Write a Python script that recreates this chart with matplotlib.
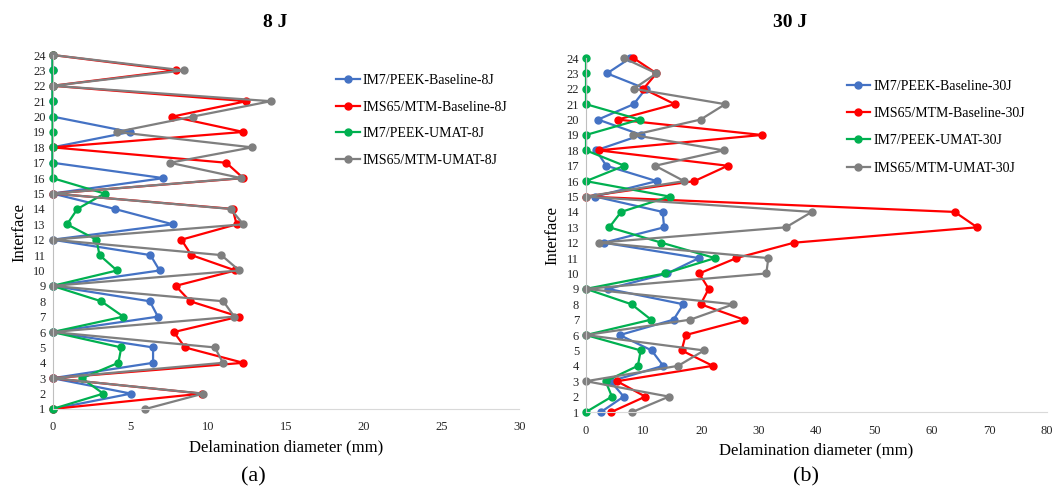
import matplotlib
matplotlib.use("Agg")
import matplotlib.pyplot as plt

plt.rcParams['font.family'] = ['Liberation Serif', 'DejaVu Serif']

interfaces = list(range(1, 25))

# delamination diameter (mm) per interface, interface 1 -> 24
peek_base_8 = [0, 5.04, 0, 6.46, 6.46, 0, 6.77, 6.25, 0, 6.88, 6.29, 0,
               7.72, 3.99, 0, 7.13, 0, 0, 4.98, 0, 0, 0, 0, 0]
mtm_base_8 = [0, 9.59, 0, 12.26, 8.51, 7.80, 11.98, 8.84, 7.91, 11.75, 8.92, 8.28,
              11.83, 11.57, 0, 12.26, 11.16, 0, 12.26, 7.70, 12.46, 0, 7.93, 0]
peek_umat_8 = [0, 3.26, 1.88, 4.23, 4.42, 0, 4.55, 3.13, 0, 4.14, 3.02, 2.82,
               0.93, 1.60, 3.34, 0, 0, 0, 0, 0, 0, 0, 0, 0]
mtm_umat_8 = [5.97, 9.68, 0, 10.95, 10.43, 0, 11.68, 10.97, 0, 12.00, 10.84, 0,
              12.26, 11.44, 0, 12.13, 7.54, 12.82, 4.12, 9.01, 14.03, 0, 8.43, 0]

peek_base_30 = [2.6, 6.54, 4.28, 13.4, 11.4, 5.85, 15.2, 16.9, 3.83, 14.1, 19.6, 3.07,
                13.56, 13.3, 1.57, 12.28, 3.53, 1.74, 9.62, 2.09, 8.28, 10.37, 3.65, 7.7]
mtm_base_30 = [4.4, 10.3, 5.39, 22.0, 16.6, 17.3, 27.4, 19.9, 21.3, 19.65, 26.1, 36.1,
               67.9, 64.0, 0, 18.8, 24.6, 2.2, 30.5, 5.5, 15.4, 9.97, 12.23, 8.23]
peek_umat_30 = [0, 4.5, 3.4, 9.0, 9.5, 0, 11.3, 7.9, 0, 13.7, 22.4, 13.1,
                4.05, 6.09, 14.5, 0, 6.66, 0, 0, 9.3, 0, 0, 0, 0]
mtm_umat_30 = [8.05, 14.4, 0, 16.0, 20.5, 0, 18.1, 25.6, 0, 31.3, 31.65, 2.3,
               34.7, 39.2, 0, 17.04, 12.0, 23.9, 8.23, 19.88, 24.17, 8.28, 12.23, 6.54]

colors = ['#4472C4', '#FF0000', '#00B050', '#7F7F7F']

fig = plt.figure(figsize=(10.57, 4.92), dpi=100)
ax_a = fig.add_axes([0.0497, 0.1687, 0.4417, 0.7195])
ax_b = fig.add_axes([0.5544, 0.1626, 0.4360, 0.7195])


def draw(ax, series, names, xmax, step):
    for vals, name, c in zip(series, names, colors):
        ax.plot(vals, interfaces, color=c, lw=1.6, marker='o', markersize=5,
                label=name, clip_on=False)
    ax.set_xlim(0, xmax)
    ax.set_ylim(1, 24)
    ax.set_xticks(range(0, xmax + 1, step))
    ax.set_yticks(interfaces)
    ax.tick_params(length=0, labelsize=9, colors='#262626')
    ax.tick_params(axis='x', pad=9)
    ax.tick_params(axis='y', pad=5)
    for s in ['top', 'right']:
        ax.spines[s].set_visible(False)
    ax.spines['left'].set_color('#BFBFBF')
    ax.spines['bottom'].set_color('#D9D9D9')
    ax.set_xlabel('Delamination diameter (mm)', fontsize=12, labelpad=4)


draw(ax_a, [peek_base_8, mtm_base_8, peek_umat_8, mtm_umat_8],
     ['IM7/PEEK-Baseline-8J', 'IMS65/MTM-Baseline-8J',
      'IM7/PEEK-UMAT-8J', 'IMS65/MTM-UMAT-8J'], 30, 5)
draw(ax_b, [peek_base_30, mtm_base_30, peek_umat_30, mtm_umat_30],
     ['IM7/PEEK-Baseline-30J', 'IMS65/MTM-Baseline-30J',
      'IM7/PEEK-UMAT-30J', 'IMS65/MTM-UMAT-30J'], 80, 10)

ax_a.set_ylabel('Interface', fontsize=12, labelpad=4)
ax_b.set_ylabel('Interface', fontsize=12, labelpad=4)

fig.text(0.260, 0.955, '8 J', fontsize=14, fontweight='bold', ha='center', va='center')
fig.text(0.747, 0.955, '30 J', fontsize=14, fontweight='bold', ha='center', va='center')
fig.text(0.240, 0.030, '(a)', fontsize=16, ha='center', va='center')
fig.text(0.763, 0.030, '(b)', fontsize=16, ha='center', va='center')

for ax, anchor, sp in [(ax_a, (0.318, 0.849), 0.97), (ax_b, (0.801, 0.838), 1.03)]:
    ax.legend(loc='upper left', bbox_to_anchor=anchor, bbox_transform=fig.transFigure,
              frameon=False, fontsize=10, handlelength=1.7, handletextpad=0.2,
              labelspacing=sp, borderpad=0, borderaxespad=0)

fig.savefig('out.png', dpi=100)
